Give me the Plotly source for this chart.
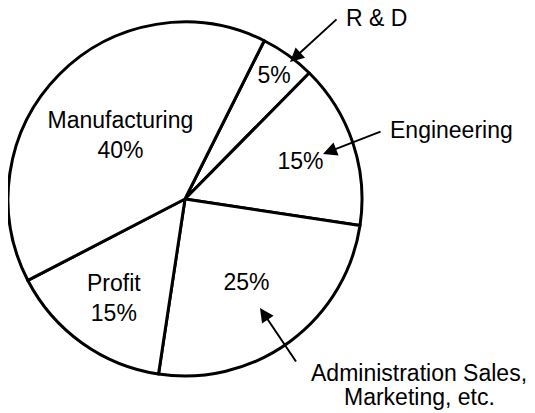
import plotly.graph_objects as go

# slices, clockwise from the R & D wedge
labels = ['R & D', 'Engineering', 'Administration Sales, Marketing, etc.', 'Profit', 'Manufacturing']
values = [5, 15, 25, 15, 40]
inside_names = ['', '', '', 'Profit', 'Manufacturing']

# page body has an 8px margin, so the figure is drawn 8px in from the window corner
OFF = 8
W, H = 535 - OFF, 413 - OFF
FONT = dict(family='Liberation Sans, Arial, sans-serif', size=23, color='black')

def px(x, y):
    # window pixel -> paper coords
    return (x - OFF) / W, 1 - (y - OFF) / H

texts = [(n + '<br>' if n else '') + f'{v}%' for n, v in zip(inside_names, values)]

# pie circle in window pixels
cx, cy, r = 185, 199, 177
x0, y0 = px(cx - r, cy + r)
x1, y1 = px(cx + r, cy - r)

fig = go.Figure(go.Pie(
    labels=labels, values=values, text=texts,
    textinfo='text', textposition='inside', insidetextorientation='horizontal',
    sort=False, direction='clockwise', rotation=26.6,
    marker=dict(colors=['white'] * len(values), line=dict(color='black', width=3)),
    insidetextfont=FONT,
    domain=dict(x=[max(x0, 0), x1], y=[y0, y1]),
    showlegend=False, hoverinfo='label+percent',
))

# outside callouts: (text lines, tip x, tip y, tail x, tail y, text x, first line y, anchor)
callouts = [
    (['R & D'], 290, 62, 338, 18, 344, 18, 'left'),
    (['Engineering'], 323, 154, 382, 131, 388, 130, 'left'),
    (['Administration Sales,', 'Marketing, etc.'], 260, 308, 297, 363, 419, 373, 'center'),
]
LINE_GAP = 24
for lines, tx, ty, sx, sy, lx, ly, anchor in callouts:
    ax0, ay0 = px(tx, ty)
    fig.add_annotation(x=ax0, y=ay0, xref='paper', yref='paper', text='',
                       showarrow=True, arrowhead=2, arrowsize=1.4, arrowwidth=2,
                       arrowcolor='black', ax=sx - tx, ay=sy - ty, standoff=0)
    for i, line in enumerate(lines):
        lx0, ly0 = px(lx, ly + i * LINE_GAP)
        fig.add_annotation(x=lx0, y=ly0, xref='paper', yref='paper', text=line,
                           showarrow=False, xanchor=anchor, yanchor='middle',
                           font=FONT)

fig.update_layout(width=W, height=H, margin=dict(l=0, r=0, t=0, b=0),
                  paper_bgcolor='white', plot_bgcolor='white')

fig.write_html('out.html')
